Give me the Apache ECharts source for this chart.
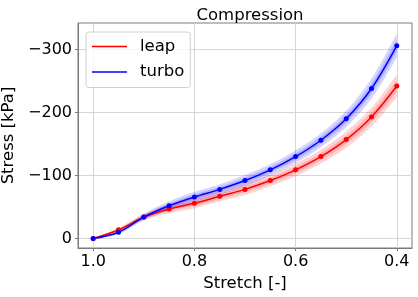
<!DOCTYPE html>
<html><head><meta charset="utf-8">
<script src="https://cdn.jsdelivr.net/npm/echarts@6/dist/echarts.min.js"></script>
<style>html,body{margin:0;padding:0;background:#fff}#c{width:418px;height:297px}</style>
</head><body><div id="c"></div>
<script>
// ---- data ----
const stretch = [1.0, 0.95, 0.9, 0.85, 0.8, 0.75, 0.7, 0.65, 0.6, 0.55, 0.5, 0.45, 0.4];
const leap  = [0, -14, -34, -47, -56, -67, -78, -92, -109, -130, -157, -193, -242];
const turbo = [0, -10, -34, -52, -66, -78, -92, -109, -130, -156, -190, -238, -306];
const leapBandOuter  = [0, 3, 5, 7, 8, 8, 9, 9, 10, 11, 13, 15, 18];
const leapBandInner  = [0, 1.5, 2.5, 3.5, 4, 4, 4.5, 4.5, 5, 5.5, 6.5, 7.5, 9];
const turboBandOuter = [0, 3, 5, 7, 8, 8, 9, 9, 10, 11, 13, 16, 19];
const turboBandInner = [0, 1.5, 2.5, 3.5, 4, 4, 4.5, 4.5, 5, 5.5, 6.5, 8, 9.5];
const xTicks = [1.0, 0.8, 0.6, 0.4];
const yTicks = [0, -100, -200, -300];
const seriesNames = ['leap', 'turbo'];

const FONT = 'DejaVu Sans';
const SMOOTH = 0.35;

function smoothPts(pts) {
  const n = pts.length, out = [];
  const cpIn = [], cpOut = [];
  for (let i = 0; i < n; i++) {
    const p = pts[i], pr = pts[Math.max(0, i - 1)], nx = pts[Math.min(n - 1, i + 1)];
    const vx = nx[0] - pr[0], vy = nx[1] - pr[1];
    const l0 = Math.hypot(p[0] - pr[0], p[1] - pr[1]);
    const l1 = Math.hypot(nx[0] - p[0], nx[1] - p[1]);
    const r = (l0 + l1) > 0 ? l1 / (l0 + l1) : 0.5;
    cpOut.push([p[0] + vx * SMOOTH * r, p[1] + vy * SMOOTH * r]);
    cpIn.push([p[0] - vx * SMOOTH * (1 - r), p[1] - vy * SMOOTH * (1 - r)]);
  }
  for (let i = 0; i < n - 1; i++) {
    const p0 = pts[i], c0 = cpOut[i], c1 = cpIn[i + 1], p1 = pts[i + 1];
    for (let k = 0; k < 16; k++) {
      const t = k / 16, u = 1 - t;
      out.push([
        u*u*u*p0[0] + 3*u*u*t*c0[0] + 3*u*t*t*c1[0] + t*t*t*p1[0],
        u*u*u*p0[1] + 3*u*u*t*c0[1] + 3*u*t*t*c1[1] + t*t*t*p1[1]
      ]);
    }
  }
  out.push(pts[n - 1]);
  return out;
}

function bandSeries(vals, hw, color) {
  return {
    type: 'custom', silent: true, z: 1, data: [0],
    renderItem: function (params, api) {
      const up = stretch.map((x, i) => api.coord([x, vals[i] - hw[i]]));
      const lo = stretch.map((x, i) => api.coord([x, vals[i] + hw[i]]));
      const pts = smoothPts(up).concat(smoothPts(lo.slice().reverse()));
      return { type: 'polygon', shape: { points: pts }, style: { fill: color } };
    }
  };
}

function lineSeries(name, vals, color) {
  return {
    name: name, type: 'line', z: 3, smooth: SMOOTH,
    data: stretch.map((x, i) => [x, vals[i]]),
    symbol: 'circle', symbolSize: 5, showSymbol: true,
    itemStyle: { color: color },
    lineStyle: { color: color, width: 1.5 },
    emphasis: { disabled: true }
  };
}

const axisGray = '#7a7a7a';
const gridGray = '#d6d6d6';

const option = {
  animation: false,
  backgroundColor: '#fff',
  title: {
    text: 'Compression', left: 245, top: 2, textAlign: 'center',
    textStyle: { fontFamily: FONT, fontSize: 16.5, fontWeight: 'normal', color: '#000' }
  },
  legend: {
    data: seriesNames.map(n => ({ name: n, icon: 'rect' })),
    orient: 'vertical', left: 86, top: 32,
    itemWidth: 35, itemHeight: 1.6, itemGap: 8.5,
    padding: [6, 6, 7, 6],
    borderColor: '#d0d0d0', borderWidth: 1, borderRadius: 3,
    backgroundColor: 'rgba(255,255,255,0.8)',
    textStyle: { fontFamily: FONT, fontSize: 16.5, color: '#000', lineHeight: 16, padding: [0, 0, 0, 8] }
  },
  grid: { left: 78, right: 6, top: 23, bottom: 49, show: true, borderColor: axisGray, borderWidth: 1,
    containLabel: false, outerBoundsMode: 'none' },
  xAxis: {
    type: 'value', inverse: true, min: 0.37, max: 1.03,
    name: 'Stretch [-]', nameLocation: 'middle', nameGap: 27,
    nameTextStyle: { fontFamily: FONT, fontSize: 16.5, color: '#000' },
    axisLine: { onZero: false, lineStyle: { color: axisGray, width: 1 } },
    axisTick: { show: true, length: 3, customValues: xTicks, lineStyle: { color: axisGray } },
    axisLabel: { customValues: xTicks, margin: 6, fontFamily: FONT, fontSize: 16, color: '#000',
      formatter: v => Number(v).toFixed(1) },
    splitLine: { show: true, lineStyle: { color: gridGray, width: 1 } }
  },
  yAxis: {
    type: 'value', inverse: true, min: -342, max: 15,
    name: 'Stress [kPa]', nameLocation: 'middle', nameGap: 57, nameRotate: 90,
    nameTextStyle: { fontFamily: FONT, fontSize: 16.5, color: '#000' },
    axisLine: { onZero: false, lineStyle: { color: axisGray, width: 1 } },
    axisTick: { show: true, length: 3, customValues: yTicks, lineStyle: { color: axisGray } },
    axisLabel: { customValues: yTicks, margin: 6, fontFamily: FONT, fontSize: 16, color: '#000',
      formatter: v => (v === 0 ? '0' : '\u2212' + Math.abs(v)) },
    splitLine: { show: true, lineStyle: { color: gridGray, width: 1 } }
  },
  series: [
    bandSeries(leap, leapBandOuter, 'rgba(255,0,0,0.17)'),
    bandSeries(leap, leapBandInner, 'rgba(255,0,0,0.17)'),
    bandSeries(turbo, turboBandOuter, 'rgba(0,0,255,0.17)'),
    bandSeries(turbo, turboBandInner, 'rgba(0,0,255,0.17)'),
    lineSeries(seriesNames[0], leap, '#ff0000'),
    lineSeries(seriesNames[1], turbo, '#0000ff')
  ]
};
const chart = echarts.init(document.getElementById('c'), null, { renderer: 'canvas' });
chart.setOption(option);
</script>
</body></html>
